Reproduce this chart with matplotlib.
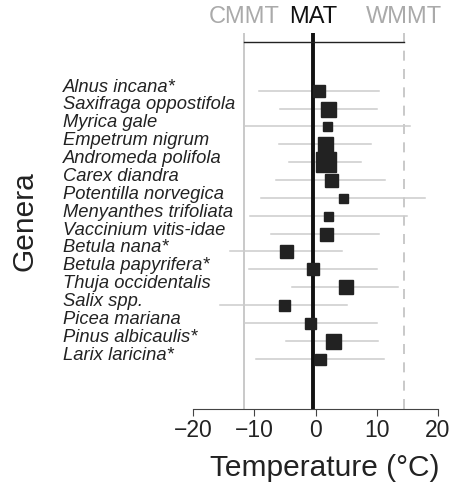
import matplotlib
matplotlib.use("Agg")
import matplotlib.pyplot as plt

plt.rcParams['font.family'] = ['Liberation Sans', 'DejaVu Sans']

genera = ["Alnus incana*", "Saxifraga oppostifola", "Myrica gale", "Empetrum nigrum",
          "Andromeda polifola", "Carex diandra", "Potentilla norvegica",
          "Menyanthes trifoliata", "Vaccinium vitis-idae", "Betula nana*",
          "Betula papyrifera*", "Thuja occidentalis", "Salix spp.", "Picea mariana",
          "Pinus albicaulis*", "Larix laricina*"]
estimate = [0.6, 2.1, 1.9, 1.6, 1.7, 2.5, 4.5, 2.1, 1.7, -4.8, -0.4, 4.9, -5.2, -0.85, 2.8, 0.8]
range_low = [-9.3, -5.8, -11.5, -5.9, -4.3, -6.4, -8.9, -10.7, -7.2, -14.0, -10.8, -3.8, -15.6, -11.5, -4.8, -9.7]
range_high = [10.4, 10.0, 15.4, 9.1, 7.5, 11.3, 17.9, 14.9, 10.4, 4.3, 10.0, 13.5, 5.2, 10.0, 10.2, 11.2]
weight = [11.7, 15, 9, 15, 20, 13, 9, 9, 13, 13, 12, 14, 11, 11, 15, 11]
CMMT = -11.6
MAT = -0.45
WMMT = 14.4
xticks = [-20, -10, 0, 10, 20]

fig = plt.figure(figsize=(4.59, 4.87), dpi=100)
ax = fig.add_axes([193/459, 1-409/487, 245/459, (409-33)/487])

n = len(genera)
ys = list(range(n))
ax.set_xlim(-20, 20)
ax.set_ylim(17.82, -3.23)

for y, lo, hi in zip(ys, range_low, range_high):
    ax.plot([lo, hi], [y, y], color='#cccccc', lw=1.1, zorder=1)

ax.axvline(CMMT, color='#c0c0c0', lw=1.2, zorder=0)
ax.axvline(WMMT, color='#c0c0c0', lw=1.2, ls=(0, (6, 5)), zorder=0)
ax.axvline(MAT, color='#111111', lw=2.8, zorder=2)
ax.plot([CMMT, WMMT], [-2.74, -2.74], color='#222222', lw=1.0, zorder=2)

for y, e, w in zip(ys, estimate, weight):
    ax.plot(e, y, marker='s', ms=w*0.72, color='#222222', mec='#222222', zorder=3, ls='none')

for y, g in zip(ys, genera):
    ax.text(-41.3, y - 0.2, g, fontsize=13.2, style='italic', ha='left', va='center',
            color='#222222', clip_on=False)

ax.text(CMMT, -4.15, "CMMT", color='#aaaaaa', fontsize=17, ha='center', va='center', clip_on=False)
ax.text(MAT, -4.15, "MAT", color='#111111', fontsize=17, ha='center', va='center', clip_on=False)
ax.text(WMMT, -4.15, "WMMT", color='#aaaaaa', fontsize=17, ha='center', va='center', clip_on=False)

for s in ['top', 'left', 'right']:
    ax.spines[s].set_visible(False)
ax.spines['bottom'].set_color('#444444')
ax.set_yticks([])
ax.set_xticks(xticks)
ax.tick_params(axis='x', direction='out', length=5, color='#444444', labelsize=16.5, pad=2,
               labelcolor='#222222')

fig.text(325/459, 1-468/487, "Temperature (\u00b0C)", fontsize=21.5, ha='center', va='center', color='#222222')
fig.text(24/459, 1-221/487, "Genera", fontsize=21.5, rotation=90, ha='center', va='center', color='#222222')

fig.savefig("out.png", dpi=100)
